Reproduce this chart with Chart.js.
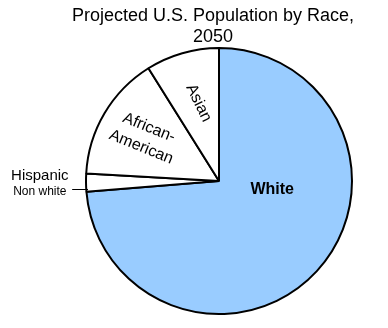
<!DOCTYPE html>
<html>
<head>
<meta charset="utf-8">
<script src="https://cdn.jsdelivr.net/npm/chart.js@4/dist/chart.umd.min.js"></script>
<style>
  html, body { margin: 0; padding: 0; background: #fff; }
  canvas { display: block; }
</style>
</head>
<body>
<canvas id="raceChart" width="388" height="328"></canvas>
<script>
var races = ['White', 'Hispanic Non white', 'African-American', 'Asian'];
var shares = [73.7, 2.2, 15.2, 8.9];
var sliceColors = ['#99ccff', '#ffffff', '#ffffff', '#ffffff'];
var titleLines = ['Projected U.S. Population by Race,', '2050'];
var sliceText = [['White'], ['Hispanic', 'Non white'], ['African-', 'American'], ['Asian']];

var FONT = '"Liberation Sans", Arial, Helvetica, sans-serif';

// text placement per slice, as fractions of the radius from the pie centre
var labelStyle = [
  { dx: 0.40, dy: 0.067, rot: 0, fonts: ['bold 16px ' + FONT], offs: [0] },
  { dx: -1.347, dy: 0.02, rot: 0, fonts: ['15px ' + FONT, '12px ' + FONT], offs: [-7.5, 8],
    leader: { x0: -1.104, x1: -0.985, dy: 0.06 } },
  { dx: -0.556, dy: -0.328, rot: 22, fonts: ['16px ' + FONT, '16px ' + FONT], offs: [-10.5, 10.5] },
  { dx: -0.153, dy: -0.586, rot: 64, fonts: ['16px ' + FONT], offs: [0] }
];

var sliceLabels = {
  id: 'sliceLabels',
  afterDraw: function (chart) {
    var ctx = chart.ctx;
    var arcs = chart.getDatasetMeta(0).data;
    ctx.save();
    ctx.fillStyle = '#000';
    ctx.textAlign = 'center';

    ctx.font = '18px ' + FONT;
    ctx.textBaseline = 'alphabetic';
    titleLines.forEach(function (t, i) {
      ctx.fillText(t, 213, 21 + i * 21);
    });

    ctx.textBaseline = 'middle';
    arcs.forEach(function (arc, i) {
      var s = labelStyle[i];
      var r = arc.outerRadius;
      ctx.save();
      ctx.translate(arc.x + s.dx * r, arc.y + s.dy * r);
      ctx.rotate(s.rot * Math.PI / 180);
      sliceText[i].forEach(function (line, j) {
        ctx.font = s.fonts[j];
        ctx.fillText(line, 0, s.offs[j]);
      });
      ctx.restore();
      if (s.leader) {
        var ly = Math.round(arc.y + s.leader.dy * r) + 0.5;
        ctx.strokeStyle = '#000';
        ctx.lineWidth = 1;
        ctx.beginPath();
        ctx.moveTo(arc.x + s.leader.x0 * r, ly);
        ctx.lineTo(arc.x + s.leader.x1 * r, ly);
        ctx.stroke();
      }
    });
    ctx.restore();
  }
};

new Chart(document.getElementById('raceChart').getContext('2d'), {
  type: 'pie',
  data: {
    labels: races,
    datasets: [{
      data: shares,
      backgroundColor: sliceColors,
      borderColor: '#000000',
      borderWidth: 2
    }]
  },
  options: {
    responsive: false,
    animation: false,
    layout: { padding: { top: 47, bottom: 13, left: 85, right: 35 } },
    plugins: {
      legend: { display: false },
      tooltip: { enabled: false }
    }
  },
  plugins: [sliceLabels]
});
</script>
</body>
</html>
